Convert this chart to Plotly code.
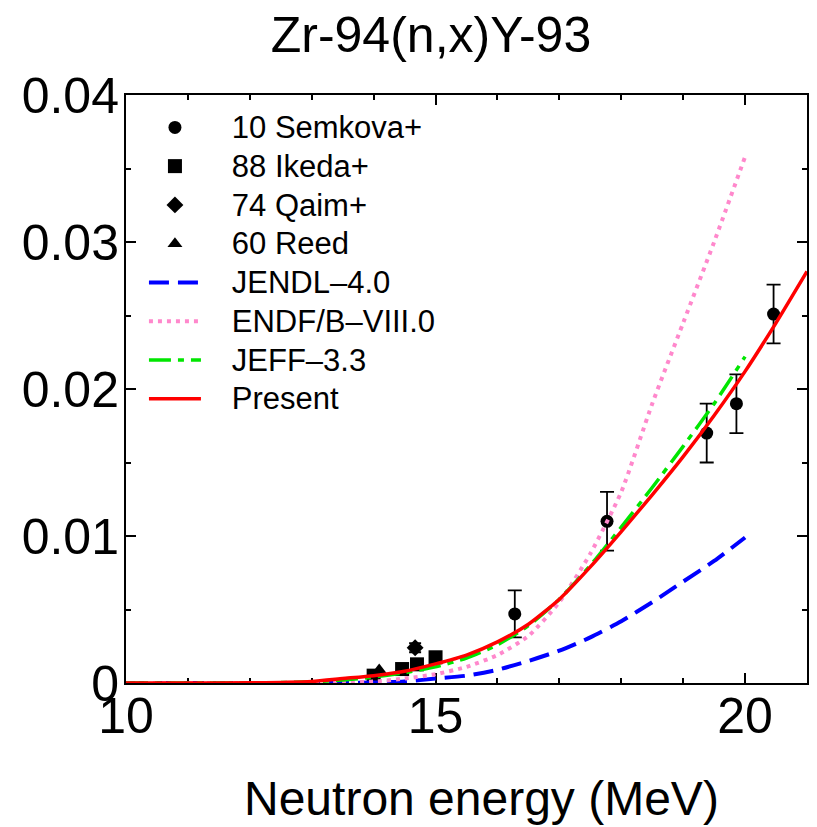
import plotly.graph_objects as go

# ---------------- data ----------------
semkova_e = [16.28, 17.77, 19.38, 19.86, 20.46]
semkova_xs = [0.0047, 0.0110, 0.0170, 0.0190, 0.0251]
semkova_err = [0.0016, 0.0020, 0.0020, 0.0020, 0.0020]

ikeda_e = [14.00, 14.46, 14.70, 15.00]
ikeda_xs = [0.00050, 0.00095, 0.00127, 0.00175]

qaim_e = [14.67]
qaim_xs = [0.0024]
qaim_err = [0.0003]

reed_e = [14.09]
reed_xs = [0.00088]

grid_e = [10, 11, 12, 12.5, 13, 13.5, 14, 14.5, 15, 15.5, 16, 16.5, 17, 17.5,
          18, 18.5, 19, 19.5, 20]
jendl_xs = [0, 0, 0, 0, 0, 0, 0.00003, 0.0001, 0.0003, 0.0005, 0.0009, 0.0015,
            0.0022, 0.0031, 0.0042, 0.0055, 0.0069, 0.0083, 0.0099]
endf_xs = [0, 0, 0, 0, 0.00001, 0.00004, 0.0001, 0.0003, 0.0006, 0.0011, 0.0019,
           0.0032, 0.0055, 0.0088, 0.0130, 0.0190, 0.0245, 0.0300, 0.0358]
jeff_xs = [0, 0, 0.00001, 0.00003, 0.00008, 0.0002, 0.0004, 0.0007, 0.0011,
           0.0017, 0.0026, 0.0039, 0.0057, 0.0080, 0.0106, 0.0133, 0.0161,
           0.0190, 0.0222]

present_e = [10, 11, 12, 12.5, 13, 13.5, 14, 14.5, 15, 15.5, 16, 16.5, 17, 17.5,
             18, 18.5, 19, 19.5, 20, 20.5, 21]
present_xs = [0, 0, 0.00001, 0.00004, 0.0001, 0.0003, 0.0005, 0.0008, 0.0013,
              0.0019, 0.0028, 0.0040, 0.0057, 0.0079, 0.0103, 0.0128, 0.0154,
              0.0182, 0.0212, 0.0245, 0.0280]

names = ["10 Semkova+", "88 Ikeda+", "74 Qaim+", "60 Reed",
         "JENDL\u20134.0", "ENDF/B\u2013VIII.0", "JEFF\u20133.3", "Present"]

FONT = "Liberation Sans, Arial, sans-serif"


def lab(s):
    return '<span style="font-size:31px">\u00a0\u00a0\u00a0' + s + '</span>'


fig = go.Figure()

fig.add_trace(go.Scatter(
    x=semkova_e, y=semkova_xs, mode="markers", name=lab(names[0]),
    marker=dict(symbol="circle", size=13, color="black"),
    error_y=dict(type="data", array=semkova_err, color="black",
                 thickness=1.8, width=7)))
fig.add_trace(go.Scatter(
    x=ikeda_e, y=ikeda_xs, mode="markers", name=lab(names[1]),
    marker=dict(symbol="square", size=14, color="black")))
fig.add_trace(go.Scatter(
    x=qaim_e, y=qaim_xs, mode="markers", name=lab(names[2]),
    marker=dict(symbol="diamond", size=13, color="black"),
    error_y=dict(type="data", array=qaim_err, color="black",
                 thickness=2, width=6)))
fig.add_trace(go.Scatter(
    x=reed_e, y=reed_xs, mode="markers", name=lab(names[3]),
    marker=dict(symbol="triangle-up", size=13, color="black")))

fig.add_trace(go.Scatter(
    x=grid_e, y=jendl_xs, mode="lines", name=lab(names[4]),
    line=dict(color="#0000ff", width=4, dash="20px,9px",
              shape="spline", smoothing=0.6)))
fig.add_trace(go.Scatter(
    x=grid_e, y=endf_xs, mode="lines", name=lab(names[5]),
    line=dict(color="#ff88cc", width=4, dash="4px,5px",
              shape="spline", smoothing=0.6)))
fig.add_trace(go.Scatter(
    x=grid_e, y=jeff_xs, mode="lines", name=lab(names[6]),
    line=dict(color="#00e600", width=3.5, dash="22px,7px,6px,7px",
              shape="spline", smoothing=0.6)))
fig.add_trace(go.Scatter(
    x=present_e, y=present_xs, mode="lines", name=lab(names[7]),
    line=dict(color="#ff0000", width=3.5, shape="spline", smoothing=0.6)))

axis_common = dict(
    showline=True, linecolor="black", linewidth=2, mirror="ticks",
    ticks="inside", ticklen=10, tickwidth=2, tickcolor="black",
    showgrid=False, zeroline=False,
    tickfont=dict(family=FONT, size=50, color="black"),
    layer="below traces",
)

fig.update_layout(
    width=817, height=827,
    margin=dict(l=126, r=8, t=95, b=144),
    paper_bgcolor="white", plot_bgcolor="white",
    font=dict(family=FONT, color="black"),
    title=dict(text="Zr-94(n,x)Y-93", x=0.5275, xanchor="center",
               y=1 - 34 / 827, yanchor="middle", yref="container",
               font=dict(family=FONT, size=50, color="black")),
    xaxis=dict(range=[10, 21], dtick=5, tick0=10, ticklabelstandoff=-12,
               minor=dict(dtick=1, ticks="inside", ticklen=5, tickwidth=2,
                          tickcolor="black"),
               **axis_common),
    yaxis=dict(range=[0, 0.04], dtick=0.01, tick0=0, ticklabelstandoff=-5,
               minor=dict(dtick=0.005, ticks="inside", ticklen=5, tickwidth=2,
                          tickcolor="black"),
               **axis_common),
    legend=dict(x=18 / 683, y=1 - 8 / 588, xanchor="left", yanchor="top",
                xref="paper", yref="paper",
                bgcolor="rgba(0,0,0,0)", borderwidth=0,
                itemwidth=52, tracegroupgap=0,
                font=dict(family=FONT, size=27.5, color="black")),
    showlegend=True,
)

# axis title placed as annotation (pixel position converted to paper fractions)
pw, ph = 817 - 126 - 8, 827 - 95 - 144
fig.add_annotation(text="Neutron energy (MeV)",
                   x=(483 - 126) / pw, y=(827 - 144 - 798) / ph,
                   xref="paper", yref="paper", showarrow=False,
                   xanchor="center", yanchor="middle",
                   font=dict(family=FONT, size=48, color="black"))

fig.write_html("out.html")
